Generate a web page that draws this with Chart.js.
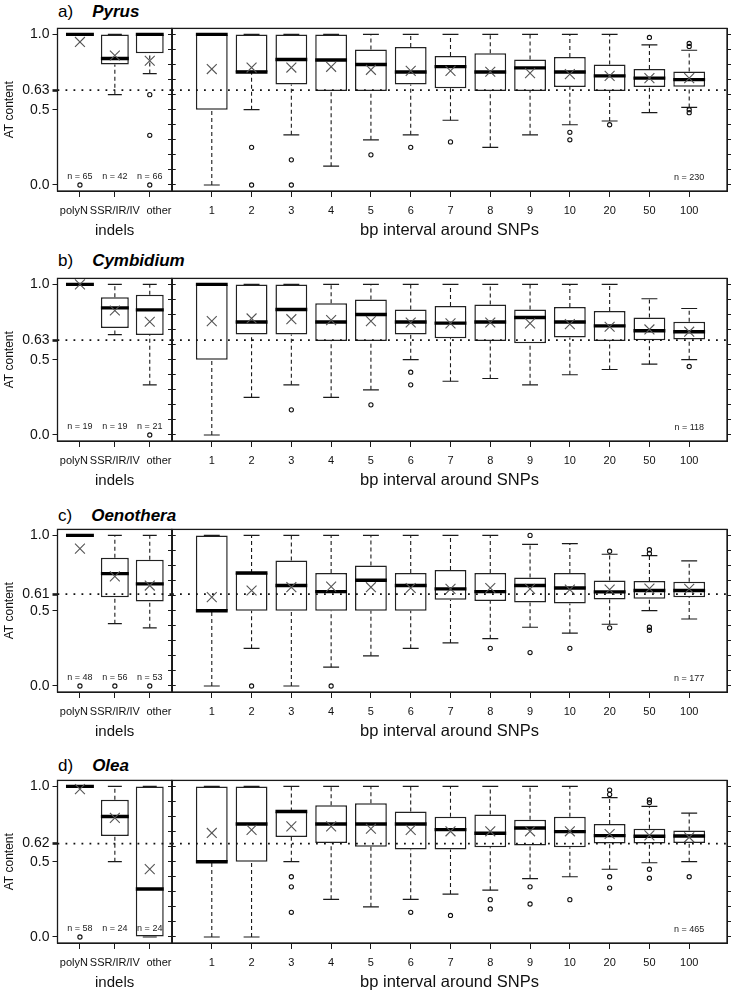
<!DOCTYPE html>
<html><head><meta charset="utf-8">
<script src="https://cdn.jsdelivr.net/npm/chart.js@4/dist/chart.umd.min.js"></script>
<style>
html,body{margin:0;padding:0;background:#fff;overflow:hidden;width:734px;height:991px}
canvas{position:absolute}
.t{position:absolute;font-family:"Liberation Sans",Arial,sans-serif;font-size:17px;line-height:20px;color:#000;white-space:nowrap}
.t b{font-style:italic;font-weight:bold;margin-left:19px}
</style></head><body>
<script>
// ---------------- DATA ----------------
const species = ['Pyrus', 'Cymbidium', 'Oenothera', 'Olea'];
const letters = ['a)', 'b)', 'c)', 'd)'];
const meanAT = [0.63, 0.63, 0.61, 0.62];
const indelCats = ['polyN', 'SSR/IR/IV', 'other'];
const indelTickText = ['polyN    ', 'SSR/IR/IV', '      other'];
const snpCats = ['1', '2', '3', '4', '5', '6', '7', '8', '9', '10', '20', '50', '100'];
const yLabelTicks = [0, 0.5, 1];
const yMinorTicks = [0, 0.1, 0.2, 0.3, 0.4, 0.5, 0.6, 0.7, 0.8, 0.9, 1];
const indelN = [[65, 42, 66], [19, 19, 21], [48, 56, 53], [58, 24, 24]];
const snpN = [230, 118, 177, 465];

const indelLow  = [[1, 0.60, 0.74], [1, 0.667, 0.333], [1, 0.414, 0.386], [1, 0.5, 0]];
const indelQ1   = [[1, 0.80, 0.875], [1, 0.711, 0.664], [1, 0.59, 0.561], [1, 0.67, 0]];
const indelMed  = [[1, 0.84, 1.0], [1, 0.844, 0.831], [1, 0.746, 0.678], [1, 0.80, 0.319]];
const indelQ3   = [[1, 1, 1], [1, 0.914, 0.932], [1, 0.851, 0.838], [1, 0.912, 1]];
const indelHigh = [[1, 1, 1], [1, 1, 1], [1, 1, 1], [1, 1, 1]];
const indelMean = [[0.95, 0.86, 0.825], [1.0, 0.827, 0.752], [0.912, 0.728, 0.667], [0.982, 0.791, 0.451]];
const indelOut  = [[[0], [], [0.6, 0.33, 0]], [[], [], [0]], [[0], [0], [0]], [[0], [], []]];

const snpLow = [
  [0, 0.5, 0.333, 0.125, 0.3, 0.333, 0.43, 0.25, 0.333, 0.4, 0.425, 0.48, 0.515],
  [0, 0.25, 0.333, 0.25, 0.3, 0.5, 0.357, 0.375, 0.333, 0.4, 0.435, 0.47, 0.5],
  [0, 0.25, 0, 0.125, 0.2, 0.25, 0.286, 0.314, 0.39, 0.351, 0.41, 0.5, 0.445],
  [0, 0, 0.5, 0.25, 0.2, 0.25, 0.285, 0.311, 0.388, 0.4, 0.45, 0.493, 0.5]];
const snpQ1 = [
  [0.5, 0.75, 0.667, 0.625, 0.625, 0.667, 0.643, 0.625, 0.625, 0.65, 0.625, 0.65, 0.653],
  [0.5, 0.667, 0.667, 0.625, 0.625, 0.667, 0.643, 0.625, 0.61, 0.648, 0.625, 0.63, 0.635],
  [0.5, 0.5, 0.5, 0.5, 0.5, 0.5, 0.572, 0.564, 0.555, 0.548, 0.575, 0.579, 0.59],
  [0.5, 0.5, 0.664, 0.625, 0.6, 0.581, 0.581, 0.596, 0.607, 0.596, 0.621, 0.621, 0.625]];
const snpMed = [
  [1.0, 0.75, 0.833, 0.83, 0.8, 0.75, 0.786, 0.75, 0.778, 0.75, 0.725, 0.71, 0.7],
  [1.0, 0.75, 0.833, 0.75, 0.8, 0.75, 0.743, 0.75, 0.78, 0.75, 0.725, 0.692, 0.686],
  [0.5, 0.75, 0.667, 0.627, 0.702, 0.667, 0.645, 0.627, 0.667, 0.651, 0.625, 0.634, 0.634],
  [0.5, 0.75, 0.833, 0.75, 0.75, 0.75, 0.713, 0.689, 0.724, 0.7, 0.673, 0.669, 0.671]];
const snpQ3 = [
  [1, 1, 1, 1, 0.9, 0.917, 0.857, 0.875, 0.833, 0.85, 0.8, 0.77, 0.754],
  [1, 1, 1, 0.875, 0.9, 0.833, 0.857, 0.866, 0.833, 0.85, 0.824, 0.78, 0.752],
  [1, 0.75, 0.833, 0.75, 0.8, 0.75, 0.77, 0.75, 0.721, 0.75, 0.7, 0.697, 0.693],
  [1, 1, 0.833, 0.875, 0.888, 0.833, 0.798, 0.814, 0.779, 0.798, 0.75, 0.719, 0.708]];
const snpHigh = [
  [1, 1, 1, 1, 1, 1, 1, 1, 1, 1, 1, 0.93, 0.895],
  [1, 1, 1, 1, 1, 1, 1, 1, 1, 1, 1, 0.905, 0.84],
  [1, 1, 1, 1, 1, 1, 1, 1, 0.941, 0.945, 0.875, 0.866, 0.831],
  [1, 1, 1, 1, 1, 1, 1, 1, 1, 1, 0.925, 0.868, 0.822]];
const snpMean = [
  [0.77, 0.78, 0.78, 0.785, 0.765, 0.758, 0.758, 0.752, 0.743, 0.736, 0.725, 0.71, 0.71],
  [0.756, 0.774, 0.769, 0.763, 0.756, 0.747, 0.741, 0.747, 0.741, 0.736, 0.719, 0.701, 0.686],
  [0.59, 0.634, 0.656, 0.66, 0.656, 0.651, 0.645, 0.651, 0.645, 0.64, 0.64, 0.647, 0.645],
  [0.691, 0.711, 0.735, 0.735, 0.719, 0.711, 0.702, 0.702, 0.702, 0.702, 0.684, 0.675, 0.662]];
const snpOut = [
  [[], [0.25, 0], [0.167, 0], [], [0.2], [0.25], [0.286], [], [], [0.35, 0.3], [0.4], [0.98], [0.94, 0.92, 0.5, 0.48]],
  [[], [], [0.167], [], [0.2], [0.417, 0.333], [], [], [], [], [], [], [0.455]],
  [[], [0], [], [0], [], [], [], [0.25], [1.0, 0.222], [0.25], [0.895, 0.386], [0.905, 0.88, 0.39, 0.37], []],
  [[], [], [0.4, 0.333, 0.164], [], [], [0.164], [0.143], [0.248, 0.186], [0.333, 0.219], [0.248], [0.976, 0.947, 0.4, 0.325], [0.91, 0.893, 0.45, 0.39], [0.4]]];

// ---------------- LAYOUT / STYLE ----------------
const F = "'Liberation Sans', Arial, Helvetica, sans-serif";
const panelTop = [27, 277, 528, 779];
const titleTop = [1.6, 250.8, 505.8, 755.8];
const PLOT_H = 164, PAD_T = 10, XAX_H = 50;
const LEFT_X = [0.357, 3.63], RIGHT_X = [0, 13.95];
const Y_RANGE = [-0.04, 1.04];
const INK = '#1a1a1a';

const framePlugin = {
  id: 'frame',
  afterDraw(chart) {
    const a = chart.chartArea, c = chart.ctx;
    c.save(); c.strokeStyle = INK; c.lineWidth = 1.3;
    c.strokeRect(a.left, a.top, a.right - a.left, a.bottom - a.top);
    c.restore();
  }
};
const nLabelPlugin = {
  id: 'nlabels',
  afterDatasetsDraw(chart, args, opts) {
    if (!opts.items) return;
    const c = chart.ctx, sx = chart.scales.x, sy = chart.scales.y;
    c.save(); c.font = '9px ' + F; c.fillStyle = '#222'; c.textAlign = 'center'; c.textBaseline = 'middle';
    opts.items.forEach(it => c.fillText('n = ' + it.n, sx.getPixelForValue(it.x), sy.getPixelForValue(it.y)));
    c.restore();
  }
};

function boxDatasets(low, q1, med, q3, high, mean, out, mAT, xr) {
  const idx = q1.map((_, i) => i + 1);
  const halfBox = ctx => { const s = ctx.chart.scales.x; return 0.4 * Math.abs(s.getPixelForValue(2) - s.getPixelForValue(1)); };
  const halfCap = ctx => halfBox(ctx) / 2;
  const whisk = [], caps = [], outs = [];
  idx.forEach((x, i) => {
    whisk.push({x, y: low[i]}, {x, y: q1[i]}, {x, y: null}, {x, y: q3[i]}, {x, y: high[i]}, {x, y: null});
    caps.push({x, y: low[i]}, {x, y: high[i]});
    out[i].forEach(v => outs.push({x, y: v}));
  });
  return [
    {type: 'line', data: [{x: xr[0], y: mAT}, {x: xr[1], y: mAT}], borderColor: '#111', borderWidth: 1.8, borderDash: [1.8, 6.2], pointRadius: 0, order: 0},
    {type: 'scatter', data: idx.map((x, i) => ({x, y: mean[i]})), pointStyle: 'crossRot', pointRadius: 7, borderColor: '#555', borderWidth: 1.1, order: 1},
    {type: 'scatter', data: outs, pointStyle: 'circle', pointRadius: 2.1, borderColor: '#111', backgroundColor: 'rgba(0,0,0,0)', borderWidth: 1.1, order: 2},
    {type: 'scatter', data: idx.map((x, i) => ({x, y: med[i]})), pointStyle: 'line', pointRadius: halfBox, borderColor: '#000', borderWidth: 3.4, order: 3},
    {type: 'scatter', data: caps, pointStyle: 'line', pointRadius: halfCap, borderColor: INK, borderWidth: 1.2, order: 4},
    {type: 'line', data: whisk, borderColor: INK, borderWidth: 1.1, borderDash: [4, 3], pointRadius: 0, spanGaps: false, order: 5},
    {type: 'bar', data: idx.map((x, i) => ({x, y: [q1[i], q3[i]]})), backgroundColor: '#fff', borderColor: '#222', borderWidth: 1.5, borderSkipped: false, barPercentage: 0.8, categoryPercentage: 1, order: 6}
  ];
}

function yAxis(pos, values, width, labelFn, tickLen, extra) {
  return Object.assign({
    type: 'linear', position: pos, min: Y_RANGE[0], max: Y_RANGE[1],
    afterBuildTicks: s => { s.ticks = values.map(v => ({value: v})); },
    afterFit: s => { s.width = width; },
    ticks: {autoSkip: false, callback: labelFn, font: {size: 14, family: F}, color: '#111', padding: 3},
    grid: {drawOnChartArea: false, drawTicks: true, tickLength: tickLen, color: INK, offset: false},
    border: {display: true, color: INK, width: 1}
  }, extra || {});
}

function xAxis(xr, cats, texts, title, titleSize) {
  return {
    type: 'linear', position: 'bottom', min: xr[0], max: xr[1], offset: false,
    afterBuildTicks: s => { s.ticks = cats.map((c, i) => ({value: i + 1})); },
    afterFit: s => { s.height = XAX_H; },
    ticks: {autoSkip: false, maxRotation: 0, minRotation: 0, callback: (v, i) => texts[i], font: {size: 11, family: F}, color: '#111', padding: 7},
    grid: {drawOnChartArea: false, drawTicks: true, tickLength: 6, color: INK, offset: false},
    border: {display: true, color: INK, width: 1},
    title: {display: true, text: title, font: {size: titleSize, family: F}, color: '#111', padding: {top: 0, bottom: 1}}
  };
}

function makeCanvas(left, top, w, h) {
  const cv = document.createElement('canvas');
  cv.width = w; cv.height = h;
  cv.style.left = left + 'px'; cv.style.top = top + 'px';
  cv.style.width = w + 'px'; cv.style.height = h + 'px';
  document.body.appendChild(cv);
  return cv;
}

const baseOpts = {
  responsive: false, animation: false, devicePixelRatio: 1, events: [],
  layout: {autoPadding: false, padding: {top: PAD_T, left: 0, right: 0, bottom: 0}},
  plugins: {legend: {display: false}, tooltip: {enabled: false}}
};

species.forEach((sp, p) => {
  const T = panelTop[p];
  const H = PAD_T + PLOT_H + XAX_H;
  const m = meanAT[p];

  // panel title
  const t = document.createElement('div');
  t.className = 't'; t.style.left = '58px'; t.style.top = titleTop[p] + 'px';
  t.appendChild(document.createTextNode(letters[p]));
  const b = document.createElement('b'); b.textContent = sp; t.appendChild(b);
  document.body.appendChild(t);

  // left: indels
  const cvL = makeCanvas(0, T - PAD_T, 180, H);
  new Chart(cvL, {
    type: 'scatter',
    data: {datasets: boxDatasets(indelLow[p], indelQ1[p], indelMed[p], indelQ3[p], indelHigh[p], indelMean[p], indelOut[p], m, LEFT_X)},
    options: Object.assign({}, baseOpts, {
      plugins: Object.assign({}, baseOpts.plugins, {nlabels: {items: indelN[p].map((n, i) => ({n, x: i + 1, y: 0.055}))}}),
      scales: {
        x: xAxis(LEFT_X, indelCats, indelTickText, 'indels', 15),
        y: yAxis('left', yLabelTicks.concat([m]).sort((a, b) => a - b), 57.5,
          v => (v === m ? m.toFixed(2) : v.toFixed(1)), 5, {
            grid: {drawOnChartArea: false, drawTicks: true, tickLength: 5, color: INK, offset: false,
                   tickWidth: c => (c.tick && c.tick.value === m ? 2.6 : 1)},
            title: {display: true, text: 'AT content', font: {size: 12, family: F}, color: '#111', padding: {top: 2, bottom: 0}}
          }),
        y2: yAxis('right', yMinorTicks, 8, () => '', 4, {border: {display: false}})
      }
    }),
    plugins: [framePlugin, nLabelPlugin]
  });

  // right: SNP intervals
  const cvR = makeCanvas(167, T - PAD_T, 567, H);
  new Chart(cvR, {
    type: 'scatter',
    data: {datasets: boxDatasets(snpLow[p], snpQ1[p], snpMed[p], snpQ3[p], snpHigh[p], snpMean[p], snpOut[p], m, RIGHT_X)},
    options: Object.assign({}, baseOpts, {
      plugins: Object.assign({}, baseOpts.plugins, {nlabels: {items: [{n: snpN[p], x: snpCats.length, y: 0.05}]}}),
      scales: {
        x: xAxis(RIGHT_X, snpCats, snpCats, 'bp interval around SNPs', 16.5),
        y: yAxis('left', yMinorTicks, 5, () => '', 4),
        y2: yAxis('right', yMinorTicks, 7, () => '', 4)
      }
    }),
    plugins: [framePlugin, nLabelPlugin]
  });
});
</script>
</body></html>
